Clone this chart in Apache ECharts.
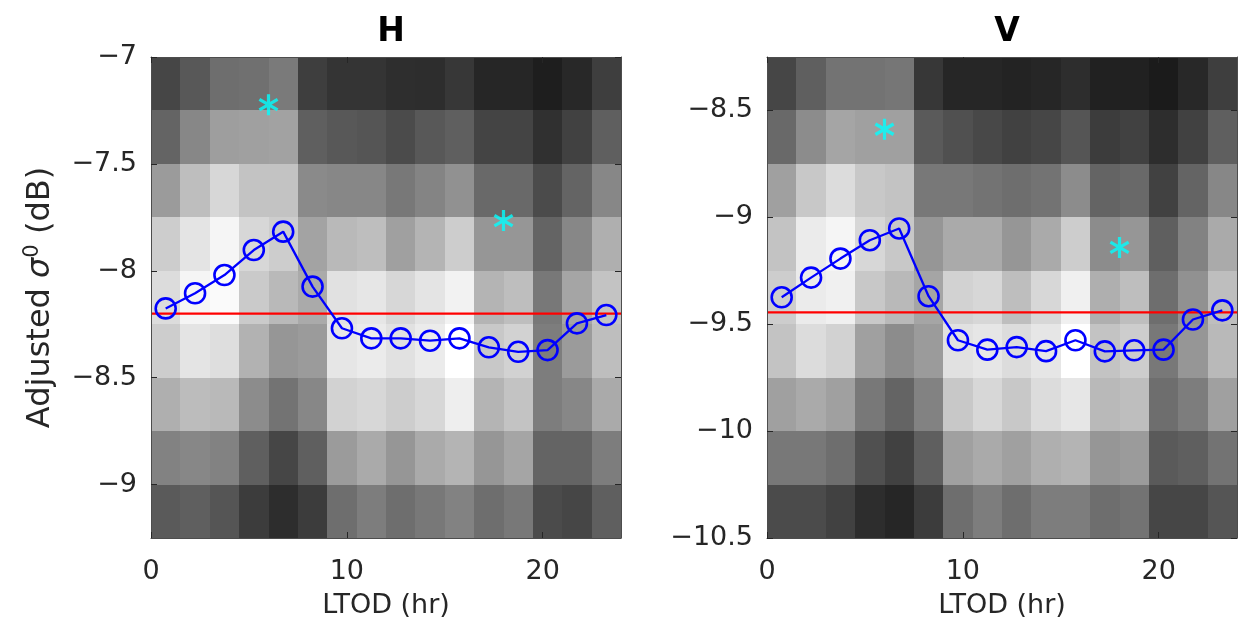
<!DOCTYPE html>
<html>
<head>
<meta charset="utf-8">
<title>Adjusted sigma0 vs LTOD</title>
<script src="https://cdn.jsdelivr.net/npm/echarts@6/dist/echarts.min.js"></script>
<style>
  html, body { margin: 0; padding: 0; background: #ffffff; }
  #chart { width: 1239px; height: 635px; }
</style>
</head>
<body>
<div id="chart"></div>
<script>
// Local time of day bins (hours): centres of the 16 bins, 1.5 h wide
const ltodCenters = [0.75, 2.25, 3.75, 5.25, 6.75, 8.25, 9.75, 11.25, 12.75, 14.25, 15.75, 17.25, 18.75, 20.25, 21.75, 23.25];
const ltodBinWidth = 1.5;
const sigmaBinHeight = 0.25;

// sigma0 bin centres (dB), listed top row first
const hSigmaCenters = [-7.125, -7.375, -7.625, -7.875, -8.125, -8.375, -8.625, -8.875, -9.125];
const vSigmaCenters = [-8.375, -8.625, -8.875, -9.125, -9.375, -9.625, -9.875, -10.125, -10.375];

// Relative sample density per bin (0 = none, 255 = max), rows follow the centres above
const hDensity = [
  [70, 88, 110, 112, 122, 62, 52, 52, 46, 45, 55, 38, 38, 30, 40, 62],
  [100, 135, 158, 160, 162, 95, 88, 85, 75, 88, 95, 68, 68, 48, 65, 95],
  [155, 190, 215, 195, 195, 138, 135, 135, 120, 132, 145, 105, 105, 75, 100, 135],
  [205, 228, 245, 215, 205, 163, 185, 190, 160, 180, 205, 150, 150, 100, 135, 175],
  [220, 245, 250, 202, 185, 170, 225, 230, 215, 228, 242, 180, 190, 120, 165, 195],
  [205, 228, 222, 178, 150, 155, 230, 235, 225, 235, 255, 200, 210, 125, 155, 190],
  [175, 188, 185, 140, 115, 135, 210, 215, 205, 215, 238, 180, 195, 125, 135, 170],
  [130, 135, 130, 95, 70, 95, 155, 170, 150, 170, 180, 150, 165, 100, 100, 125],
  [90, 95, 85, 60, 45, 60, 110, 125, 110, 120, 130, 110, 120, 75, 70, 95]
];
const vDensity = [
  [70, 95, 115, 115, 118, 55, 38, 38, 35, 38, 45, 33, 33, 27, 40, 62],
  [105, 140, 165, 160, 160, 90, 80, 72, 65, 70, 85, 60, 65, 45, 65, 95],
  [160, 200, 220, 200, 195, 120, 120, 115, 110, 115, 140, 100, 105, 65, 100, 135],
  [195, 235, 245, 215, 200, 150, 170, 170, 150, 170, 205, 140, 150, 95, 130, 170],
  [205, 235, 240, 200, 185, 165, 210, 215, 190, 215, 240, 175, 190, 110, 145, 190],
  [195, 220, 210, 160, 140, 155, 225, 230, 220, 230, 255, 195, 205, 120, 150, 185],
  [160, 170, 160, 120, 100, 130, 200, 215, 200, 220, 230, 185, 190, 110, 125, 160],
  [120, 120, 110, 80, 65, 95, 160, 170, 160, 175, 180, 150, 155, 90, 95, 115],
  [75, 75, 65, 45, 38, 60, 110, 125, 110, 125, 125, 110, 115, 70, 70, 85]
];

// Mean adjusted sigma0 per LTOD bin (dB)
const hMeanSigma = [-8.176, -8.105, -8.020, -7.903, -7.817, -8.074, -8.269, -8.316, -8.316, -8.327, -8.316, -8.358, -8.379, -8.371, -8.246, -8.207];
const vMeanSigma = [-9.374, -9.282, -9.193, -9.107, -9.052, -9.369, -9.575, -9.619, -9.607, -9.626, -9.575, -9.627, -9.622, -9.619, -9.478, -9.435];

// Overall mean level (dB)
const hOverallMean = -8.2;
const vOverallMean = -9.445;

// Reference points [LTOD (hr), sigma0 (dB)]
const hRefPoints = [[6, -7.223], [18, -7.765]];
const vRefPoints = [[6, -8.588], [18, -9.141]];

// Axis ranges and tick labels
const ltodRange = [0, 24];
const hSigmaRange = [-9.25, -7];
const vSigmaRange = [-10.5, -8.25];
const ltodTicks = [0, 10, 20];
const hSigmaTicks = [-9, -8.5, -8, -7.5, -7];
const vSigmaTicks = [-10.5, -10, -9.5, -9, -8.5];

const FONT = 'DejaVu Sans';
const TEXT = '#262626';
const FRAME = '#4d4d4d';

function cellData(centers, density) {
  const out = [];
  centers.forEach((s, r) => {
    ltodCenters.forEach((t, c) => out.push([t, s, density[r][c]]));
  });
  return out;
}

function renderCell(params, api) {
  const t = api.value(0), s = api.value(1);
  const p0 = api.coord([t - ltodBinWidth / 2, s + sigmaBinHeight / 2]);
  const p1 = api.coord([t + ltodBinWidth / 2, s - sigmaBinHeight / 2]);
  const x0 = Math.round(p0[0]), y0 = Math.round(p0[1]);
  const x1 = Math.round(p1[0]), y1 = Math.round(p1[1]);
  return {
    type: 'rect',
    shape: { x: x0, y: y0, width: x1 - x0, height: y1 - y0 },
    style: { fill: api.visual('color') }
  };
}

const fmt = v => String(v).replace('-', '\u2212');

function xAxes(gridIndex, withName) {
  return [
    {
      gridIndex, type: 'value', position: 'bottom', min: ltodRange[0], max: ltodRange[1], z: 10,
      axisLine: { show: true, onZero: false, lineStyle: { color: FRAME, width: 1 } },
      axisTick: { show: true, inside: true, length: 6, customValues: ltodTicks, lineStyle: { color: TEXT } },
      axisLabel: { customValues: ltodTicks, formatter: fmt, fontFamily: FONT, fontSize: 27, color: TEXT, margin: 20 },
      splitLine: { show: false },
      name: withName ? 'LTOD (hr)' : '', nameLocation: 'middle', nameGap: 54,
      nameTextStyle: { fontFamily: FONT, fontSize: 27, color: TEXT }
    },
    {
      gridIndex, type: 'value', position: 'top', min: ltodRange[0], max: ltodRange[1], z: 10,
      axisLine: { show: true, onZero: false, lineStyle: { color: FRAME, width: 1 } },
      axisTick: { show: true, inside: true, length: 6, customValues: ltodTicks, lineStyle: { color: TEXT } },
      axisLabel: { show: false },
      splitLine: { show: false }
    }
  ];
}

function yAxes(gridIndex, range, ticks, name) {
  return [
    {
      gridIndex, type: 'value', position: 'left', min: range[0], max: range[1], z: 10,
      axisLine: { show: true, onZero: false, lineStyle: { color: FRAME, width: 1 } },
      axisTick: { show: true, inside: true, length: 6, customValues: ticks, lineStyle: { color: TEXT } },
      axisLabel: { customValues: ticks, formatter: fmt, fontFamily: FONT, fontSize: 27, color: TEXT, margin: 14 },
      splitLine: { show: false },
      name: name || '', nameLocation: 'middle', nameRotate: 90, nameGap: 92,
      nameTextStyle: {
        fontFamily: FONT, fontSize: 32, color: TEXT,
        rich: {
          s: { fontFamily: FONT, fontSize: 32, fontStyle: 'italic', color: TEXT },
          sup: { fontFamily: FONT, fontSize: 21, color: TEXT, padding: [0, 0, 16, 0] }
        }
      }
    },
    {
      gridIndex, type: 'value', position: 'right', min: range[0], max: range[1], z: 10,
      axisLine: { show: true, onZero: false, lineStyle: { color: FRAME, width: 1 } },
      axisTick: { show: true, inside: true, length: 6, customValues: ticks, lineStyle: { color: TEXT } },
      axisLabel: { show: false },
      splitLine: { show: false }
    }
  ];
}

function panelSeries(gridAxis, centers, density, meanSigma, overall, refPoints) {
  const xi = gridAxis * 2, yi = gridAxis * 2;
  return [
    {
      type: 'custom', xAxisIndex: xi, yAxisIndex: yi, z: 1,
      renderItem: renderCell, encode: { x: 0, y: 1 },
      data: cellData(centers, density), silent: true
    },
    {
      type: 'line', xAxisIndex: xi, yAxisIndex: yi, z: 3,
      data: [[ltodRange[0], overall], [ltodRange[1], overall]],
      showSymbol: false, lineStyle: { color: '#ff0000', width: 2.2 }, silent: true
    },
    {
      type: 'line', xAxisIndex: xi, yAxisIndex: yi, z: 4,
      data: ltodCenters.map((t, i) => [t, meanSigma[i]]),
      symbol: 'circle', symbolSize: 20,
      lineStyle: { color: '#0000ff', width: 2.3 },
      itemStyle: { color: 'rgba(0,0,0,0)', borderColor: '#0000ff', borderWidth: 2.6 },
      silent: true
    },
    {
      type: 'scatter', xAxisIndex: xi, yAxisIndex: yi, z: 5,
      data: refPoints,
      symbol: 'path://M0,-10L0,10M-8.66,-5L8.66,5M-8.66,5L8.66,-5',
      symbolSize: 21, symbolKeepAspect: true,
      itemStyle: { color: '#00ffff', borderColor: '#00ffff', borderWidth: 3.2 },
      silent: true
    }
  ];
}

const chart = echarts.init(document.getElementById('chart'), null, { renderer: 'canvas' });

const hSeries = panelSeries(0, hSigmaCenters, hDensity, hMeanSigma, hOverallMean, hRefPoints);
const vSeries = panelSeries(1, vSigmaCenters, vDensity, vMeanSigma, vOverallMean, vRefPoints);

chart.setOption({
  animation: false,
  backgroundColor: '#ffffff',
  title: [
    { text: 'H', left: 386, top: 11, textAlign: 'center',
      textStyle: { fontFamily: FONT, fontSize: 33, fontWeight: 'bold', color: '#000000' } },
    { text: 'V', left: 1002, top: 11, textAlign: 'center',
      textStyle: { fontFamily: FONT, fontSize: 33, fontWeight: 'bold', color: '#000000' } }
  ],
  grid: [
    { left: 151, top: 57, width: 470, height: 481, containLabel: false },
    { left: 767, top: 57, width: 470, height: 481, containLabel: false }
  ],
  xAxis: [...xAxes(0, true), ...xAxes(1, true)],
  yAxis: [
    ...yAxes(0, hSigmaRange, hSigmaTicks, 'Adjusted {s|\u03c3}{sup|0} (dB)'),
    ...yAxes(1, vSigmaRange, vSigmaTicks, '')
  ],
  visualMap: {
    show: false, type: 'continuous', min: 0, max: 255, dimension: 2,
    seriesIndex: [0, 4],
    inRange: { color: ['#000000', '#ffffff'] }
  },
  series: [...hSeries, ...vSeries]
});
</script>
</body>
</html>
